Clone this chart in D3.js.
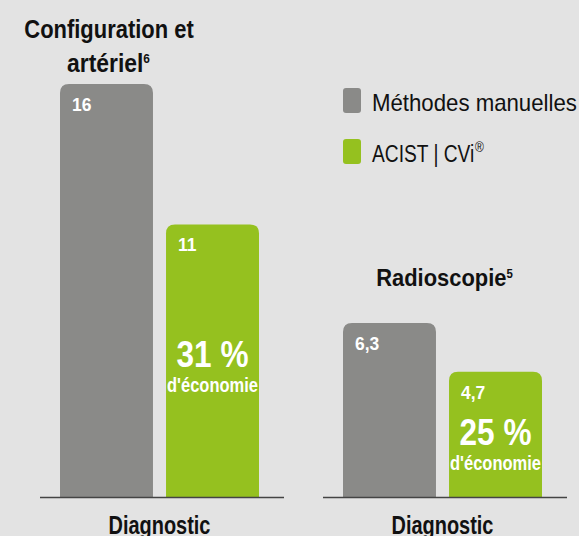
<!DOCTYPE html>
<html>
<head>
<meta charset="utf-8">
<script src="https://cdn.jsdelivr.net/npm/d3@7"></script>
<style>
  html, body { margin: 0; padding: 0; background: #e3e3e3; }
  svg { display: block; }
  text { font-family: "Liberation Sans", Arial, sans-serif; }
</style>
</head>
<body>
<svg id="chart"></svg>
<script>
// data
let panels = ["Configuration et artériel", "Radioscopie"];
let panelNotes = ["6", "5"];
let series = ["Méthodes manuelles", "ACIST | CVi®"];
let manualValues = [16, 6.3];
let acistValues = [11, 4.7];
let savings = ["31 %", "25 %"];
let axisLabel = "Diagnostic";

let width = 579;
let height = 536;
let baseline = 497;
let colors = { "Méthodes manuelles": "#8a8a88", "ACIST | CVi®": "#95c11f" };

// each panel has its own scale (the original is not drawn to one scale)
let panelLeft = [40, 323];
let panelWidth = 244;
let barTop = [84, 323];
let domainFloor = [1.3, 0.6];

let svg = d3.select("#chart")
    .attr("width", width)
    .attr("height", height);

svg.append("rect")
    .attr("width", width)
    .attr("height", height)
    .attr("fill", "#e3e3e3");

let fmt = v => String(v).replace(".", ",");

// the original uses a condensed face: each text sits in a group that is
// squeezed horizontally until it has the wanted width
function label(parent, x, y, anchor, fit) {
    let g = parent.append("g").attr("transform", `translate(${x},${y})`);
    let t = g.append("text").attr("text-anchor", anchor);
    t.fit = fit;
    return t;
}
function squeeze(t) {
    let w = t.node().getBBox().width;
    let s = typeof t.fit === "number" && t.fit > 2 ? t.fit / w : (t.fit || 0.85);
    let g = d3.select(t.node().parentNode);
    g.attr("transform", g.attr("transform") + ` scale(${s},1)`);
}
let texts = [];

// top-rounded bar path
function barPath(x, y, w, h, r) {
    return `M${x},${y + h}V${y + r}Q${x},${y} ${x + r},${y}H${x + w - r}Q${x + w},${y} ${x + w},${y + r}V${y + h}Z`;
}

panels.forEach((p, i) => {
    let values = [manualValues[i], acistValues[i]];
    let g = svg.append("g").attr("class", "panel");

    let x = d3.scaleBand()
        .domain(series)
        .range([panelLeft[i] + 20, panelLeft[i] + 219])
        .paddingInner(0.123)
        .paddingOuter(0);

    let y = d3.scaleLinear()
        .domain([domainFloor[i], d3.max(values)])
        .range([baseline, barTop[i]]);

    g.selectAll("path.bar")
        .data(series)
        .join("path")
        .attr("class", "bar")
        .attr("fill", d => colors[d])
        .attr("d", (d, j) => barPath(x(d), y(values[j]), x.bandwidth(), baseline - y(values[j]), 9));

    // value labels
    series.forEach((s, j) => {
        let t = label(g, x(s) + 12, y(values[j]) + 27, "start", 0.92)
            .attr("fill", "white")
            .attr("font-size", "19px")
            .attr("font-weight", "bold")
            .text(fmt(values[j]));
        texts.push(t);
    });

    // savings label inside green bar
    let cx = x(series[1]) + x.bandwidth() / 2;
    let sy = i === 0 ? 367 : 445;
    texts.push(label(g, cx, sy, "middle", 72)
        .attr("fill", "white")
        .attr("font-size", "36px")
        .attr("font-weight", "bold")
        .text(savings[i]));
    texts.push(label(g, cx, sy + 25, "middle", 91)
        .attr("fill", "white")
        .attr("font-size", "21px")
        .attr("font-weight", "bold")
        .text("d'économie"));

    // baseline
    g.append("line")
        .attr("x1", panelLeft[i])
        .attr("x2", panelLeft[i] + panelWidth)
        .attr("y1", baseline + 0.5)
        .attr("y2", baseline + 0.5)
        .attr("stroke", "#444")
        .attr("stroke-width", 1.5);

    texts.push(label(g, x.range()[0] + 99.5, 534, "middle", 102)
        .attr("font-size", "25px")
        .attr("font-weight", "bold")
        .attr("fill", "#111")
        .text(axisLabel));
});

// panel titles
texts.push(label(svg, 109, 38, "middle", 170)
    .attr("font-size", "25px")
    .attr("font-weight", "bold")
    .attr("fill", "#111")
    .text("Configuration et"));
let t1 = label(svg, 108.5, 71.5, "middle", 83)
    .attr("font-size", "25px")
    .attr("font-weight", "bold")
    .attr("fill", "#111");
t1.append("tspan").text("artériel");
t1.append("tspan").attr("dy", -8.5).attr("font-size", "13px").text(panelNotes[0]);
texts.push(t1);

let t2 = label(svg, 444.5, 286, "middle", 137)
    .attr("font-size", "23px")
    .attr("font-weight", "bold")
    .attr("fill", "#111");
t2.append("tspan").text("Radioscopie");
t2.append("tspan").attr("dy", -8).attr("font-size", "12px").text(panelNotes[1]);
texts.push(t2);

// legend
let legend = svg.append("g").attr("class", "legend");
let legendWidths = [205, 112];
series.forEach((s, i) => {
    let ly = 88 + i * 51;
    legend.append("rect")
        .attr("x", 343).attr("y", ly)
        .attr("width", 18).attr("height", 25)
        .attr("rx", 3)
        .attr("fill", colors[s]);
    let t = label(legend, 372, ly + 23, "start", legendWidths[i])
        .attr("font-size", "24px")
        .attr("fill", "#111");
    if (s.endsWith("®")) {
        t.append("tspan").text(s.slice(0, -1));
        t.append("tspan").attr("dy", -10).attr("dx", 1).attr("font-size", "15px").text("®");
    } else {
        t.text(s);
    }
    texts.push(t);
});

texts.forEach(squeeze);
</script>
</body>
</html>
